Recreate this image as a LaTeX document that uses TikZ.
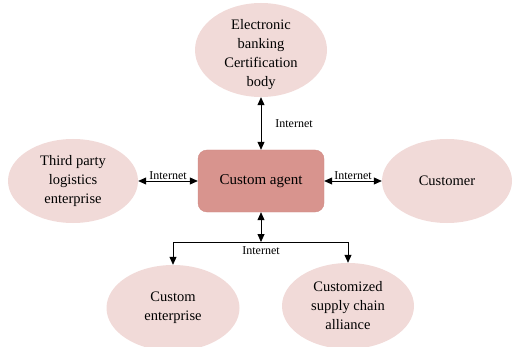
\documentclass[tikz,border=0pt]{standalone}
\usepackage{fontspec}
\setmainfont{Liberation Serif}
\usetikzlibrary{shapes.geometric,arrows.meta}
\definecolor{ellfill}{HTML}{F1DAD8}
\definecolor{boxfill}{HTML}{D8948E}
\definecolor{boxline}{HTML}{D08A84}
\tikzset{
  party/.style={ellipse, fill=ellfill, draw=none, inner sep=0pt, align=center,
    font=\fontsize{14.5}{19}\selectfont},
  partytext/.style={align=center, inner sep=0pt, font=\fontsize{14.5}{19}\selectfont},
  agentbox/.style={rectangle, rounded corners=9pt, fill=boxfill, draw=boxline,
    minimum width=126pt, minimum height=62pt, font=\fontsize{15}{18}\selectfont},
  link/.style={line width=0.8pt, {Triangle[length=8pt,width=7pt]}-{Triangle[length=8pt,width=7pt]}},
  onelink/.style={line width=0.8pt, -{Triangle[length=8pt,width=7pt]}},
  net/.style={font=\fontsize{12}{14}\selectfont, inner sep=1pt}
}
\begin{document}
\begin{tikzpicture}[x=1pt,y=-1pt]
  \useasboundingbox (0,0) rectangle (513,347);
  % partners around the agent
  \node[party, minimum width=132pt, minimum height=94pt] (bank) at (261,50) {};
  \node[partytext] (banktext) at (261,55)
    {Electronic\\banking\\Certification\\body};
  \node[party, minimum width=130pt, minimum height=84pt] (logi) at (73,181)
    {Third party\\logistics\\enterprise};
  \node[party, minimum width=130pt, minimum height=84pt] (cust) at (447,181) {Customer};
  \node[party, minimum width=133pt, minimum height=86pt] (ent) at (173,308)
    {Custom\\enterprise};
  \node[party, minimum width=132pt, minimum height=86pt] (chain) at (348,306)
    {Customized\\supply chain\\alliance};
  % central agent
  \node[agentbox] (agent) at (261,181) {Custom agent};
  % internet links
  \draw[link] (bank.south) -- (agent.north)
    node[net, midway, right=13pt] {Internet};
  \draw[link] (logi.east) -- (agent.west)
    node[net, midway, above=0pt] {Internet};
  \draw[link] (agent.east) -- (cust.west)
    node[net, midway, above=0pt] {Internet};
  \coordinate (fork) at (261,242);
  \draw[link] (agent.south) -- (fork);
  \node[net] (netlbl) at (261,251) {Internet};
  \draw[onelink] (fork) -| (ent.north);
  \draw[onelink] (fork) -| (chain.north);
\end{tikzpicture}
\end{document}
